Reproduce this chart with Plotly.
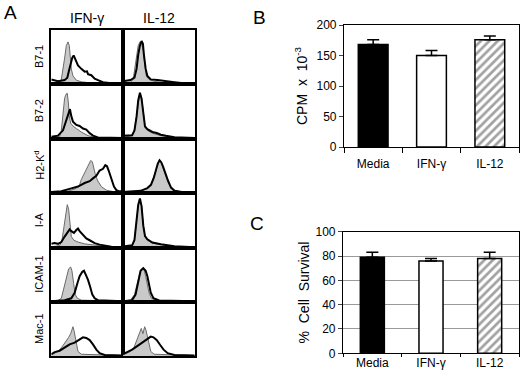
import plotly.graph_objects as go

# ---------------- data ----------------
MARKERS = ["B7-1", "B7-2", "H2-K<sup>d</sup>", "I-A", "ICAM-1", "Mac-1"]
TREATMENTS_A = ["IFN-γ", "IL-12"]

CATEGORIES = ["Media", "IFN-γ", "IL-12"]
CPM = [168, 150, 176]
CPM_ERR = [8, 8, 6]
SURVIVAL = [79, 76, 78]
SURVIVAL_ERR = [4, 2, 5]

# histogram traces (fluorescence channel 0-100, relative counts 0-100)
b71_ifn_ctrl_x = [0, 11.6, 14, 16.3, 18.6, 20.9, 23.3, 25.1, 26.5, 27.9, 30.2, 34.9, 41.9, 55.8, 100]
b71_ifn_ctrl_y = [2, 3, 8.5, 25, 48, 71, 78, 71, 48, 28, 15, 7, 4, 2, 1]
b71_ifn_trt_x = [0, 9.3, 18.6, 22.3, 24.7, 27, 29.3, 31.2, 33.5, 37.2, 41.9, 46.5, 49.8, 51.2, 55.8, 60.5, 65.1, 72.1, 83.7, 100]
b71_ifn_trt_y = [8.5, 5.2, 7.2, 11.8, 24.8, 37.9, 49, 52.9, 44.4, 34.6, 28.1, 22.9, 23.5, 18.3, 16.3, 9.8, 7.2, 3.3, 1.3, 0.7]
b71_il12_ctrl_x = [0, 10.4, 14.2, 16.5, 18.9, 21.2, 23.6, 25.9, 28.3, 30.2, 32.5, 36.3, 43.4, 57.5, 100]
b71_il12_ctrl_y = [2, 3.3, 8.5, 28, 54, 71, 78, 75, 61, 34.6, 15, 8.5, 5.2, 2, 0.7]
b71_il12_trt_x = [0, 10.4, 16, 18.9, 21.2, 23.6, 25.9, 27.8, 29.2, 31.6, 34, 38.7, 48.1, 57.5, 71.7, 90.6, 100]
b71_il12_trt_y = [5.2, 7.2, 11.8, 28, 54, 71, 79.7, 74.5, 54, 28, 15, 8.5, 7.2, 5.2, 3.3, 0.7, 0.5]

b72_ifn_ctrl_x = [0, 11.6, 14, 16.3, 18.6, 20.9, 22.3, 23.7, 25.1, 27, 30.2, 34.9, 41.9, 51.2, 60.5, 100]
b72_ifn_ctrl_y = [2, 3.3, 15, 41, 74, 82, 83, 67, 41, 28, 23, 18.3, 11.8, 5.2, 2, 0.7]
b72_ifn_trt_x = [0, 9.3, 16.3, 20.9, 24.2, 26, 27.9, 30.2, 34.9, 39.5, 44.2, 48.8, 53.5, 58.1, 65.1, 100]
b72_ifn_trt_y = [3.3, 5.2, 15, 34.6, 51, 54, 41, 31, 24.8, 22.9, 18.3, 16.3, 9.8, 5.2, 2, 0.7]
b72_il12_ctrl_x = [0, 12.7, 16, 18.9, 21.2, 23.6, 25.9, 28.3, 30.7, 34, 41, 52.8, 71.7, 100]
b72_il12_ctrl_y = [2, 5.2, 15, 41, 71, 83.7, 74.5, 41, 21.6, 15, 9.8, 5.2, 2, 0.7]
b72_il12_trt_x = [0, 12.7, 16, 18.9, 21.2, 23.6, 25.9, 28.3, 30.7, 34, 41, 47, 52.8, 60, 71.7, 100]
b72_il12_trt_y = [5, 6, 15, 40, 70, 84, 73, 42, 22, 17, 12, 10, 7, 5, 2.5, 1]

h2k_ifn_ctrl_x = [0, 23.3, 34.9, 39.5, 41.9, 45.6, 48.8, 52.1, 54.9, 57.2, 59.5, 61.9, 65.1, 69.8, 76.7, 88.4, 100]
h2k_ifn_ctrl_y = [0.7, 3.3, 8.5, 15, 24.8, 34.6, 44.4, 54.2, 59.5, 57.5, 44.4, 31.4, 21.6, 11.8, 5.2, 2, 0.7]
h2k_ifn_trt_x = [0, 14, 27.9, 37.2, 46.5, 53.5, 58.1, 62.8, 67.4, 72.1, 75.3, 77.7, 80, 83.7, 87.4, 90.7, 94, 100]
h2k_ifn_trt_y = [2, 3.3, 8.5, 11.8, 18.3, 21.6, 26.8, 31.4, 41.2, 44.4, 51, 49, 41.2, 24.8, 11.8, 5.2, 3.3, 3.3]
h2k_il12_ctrl_x = [0, 24.5, 34, 38.7, 42.5, 45.8, 48.1, 50.5, 52.8, 55.2, 58.5, 62.3, 66, 70.8, 81.1, 100]
h2k_il12_ctrl_y = [0.7, 3.3, 8.5, 15, 28, 41.2, 54.2, 59.5, 57.5, 47.7, 34.6, 21.6, 11.8, 5.2, 2, 0.7]
h2k_il12_trt_x = [0, 24.5, 34, 39, 43, 46, 48.5, 51, 53.5, 56, 59, 63, 67, 72, 82, 100]
h2k_il12_trt_y = [2, 4, 9, 15, 28, 42, 54, 60, 56, 48, 36, 22, 10, 4, 2, 1]

ia_ifn_ctrl_x = [0, 11.6, 14.9, 17.7, 20, 22.3, 24.2, 26, 27.9, 31.6, 37.2, 46.5, 55.8, 65.1, 79.1, 100]
ia_ifn_ctrl_y = [1.3, 3.3, 13.3, 40, 66.7, 78.7, 70, 40, 20, 13.3, 10, 6.7, 5.3, 3.3, 1.3, 0]
ia_ifn_trt_x = [0, 4.7, 9.3, 14, 18.6, 22.3, 25.6, 27.9, 31.6, 34.9, 37.2, 39.5, 44.2, 48.8, 53.5, 60.5, 67.4, 74.4, 83.7, 100]
ia_ifn_trt_y = [6.7, 8, 6.7, 10, 20, 26.7, 33.3, 30, 26.7, 32, 34.7, 30, 23.3, 16.7, 13.3, 8, 5.3, 3.3, 1.3, 0]
ia_il12_ctrl_x = [0, 12.7, 16, 18.9, 21.2, 23.6, 25.9, 28.3, 30.7, 34, 41, 52.8, 71.7, 100]
ia_il12_ctrl_y = [1.3, 3.3, 13.3, 46.7, 76.7, 88, 76.7, 40, 20, 13.3, 8, 5.3, 2, 0]
ia_il12_trt_x = [0, 12.7, 16, 18.9, 21.2, 23.6, 25.9, 28.3, 30.7, 34, 41, 52.8, 71.7, 100]
ia_il12_trt_y = [2, 4, 14, 47, 78, 90, 76, 40, 21, 15, 9, 6, 2.5, 0.5]

icam_ifn_ctrl_x = [0, 9.3, 14, 17.7, 20.9, 24.2, 27, 28.8, 31.2, 33.5, 36.3, 41.9, 100]
icam_ifn_ctrl_y = [1.4, 2.7, 6.8, 27, 47.3, 60.8, 64.2, 57.4, 33.8, 13.5, 6.8, 3.4, 1.4]
icam_ifn_trt_x = [0, 18.6, 27.9, 32.6, 36.3, 39.5, 43.3, 45.6, 47.9, 51.2, 54.4, 57.2, 60.5, 65.1, 100]
icam_ifn_trt_y = [1.4, 3.4, 6.8, 16.9, 33.8, 47.3, 55.4, 57.4, 50.7, 40.5, 27, 13.5, 6.8, 3.4, 1.4]
icam_il12_ctrl_x = [0, 10.4, 16, 19.8, 23.6, 26.9, 29.2, 31.6, 34, 36.3, 39.6, 48.1, 100]
icam_il12_ctrl_y = [1.4, 3.4, 13.5, 33.8, 54.1, 62.2, 59.5, 47.3, 33.8, 16.9, 6.8, 2.7, 1.4]
icam_il12_trt_x = [0, 12.7, 17.5, 21.2, 24.5, 28.3, 31.6, 34, 36.3, 38.7, 42.5, 50.5, 100]
icam_il12_trt_y = [1.4, 3.4, 13.5, 40.5, 57.4, 62.2, 57.4, 47.3, 33.8, 16.9, 6.8, 2.7, 1.4]

mac1_ifn_ctrl_x = [0, 4.7, 9.3, 14, 17.7, 20.9, 24.2, 27, 28.8, 30.2, 31.6, 33.5, 34.9, 37.2, 41.9, 100]
mac1_ifn_ctrl_y = [2, 5.2, 8.5, 15, 21.6, 28.1, 34.6, 41.2, 47.7, 54.2, 47.7, 34.6, 21.6, 8.5, 3.3, 0.7]
mac1_ifn_trt_x = [0, 4.7, 11.6, 18.6, 25.6, 32.6, 39.5, 44.2, 48.8, 53.5, 58.1, 62.8, 67.4, 74.4, 100]
mac1_ifn_trt_y = [3.3, 7.2, 9.8, 15, 21.6, 24.8, 31.4, 34.6, 33.3, 29.4, 21.6, 11.8, 5.2, 2, 0.7]
mac1_il12_ctrl_x = [0, 5.7, 10.4, 15.1, 18.9, 22.2, 25.5, 27.8, 30.2, 32.1, 34, 36.3, 38.7, 43.4, 100]
mac1_il12_ctrl_y = [2, 5.2, 8.5, 15, 28.1, 41.2, 51, 41.2, 54.2, 47.7, 34.6, 18.3, 8.5, 3.3, 0.7]
mac1_il12_trt_x = [0, 5.7, 12.7, 19.8, 26.9, 34, 38.7, 42.5, 47.2, 51.9, 56.6, 62.3, 71.7, 100]
mac1_il12_trt_y = [3.3, 7.2, 11.8, 18.3, 24.8, 31.4, 35.9, 34.6, 29.4, 20.3, 11.8, 5.2, 2, 0.7]

HISTS = [
    [(b71_ifn_ctrl_x, b71_ifn_ctrl_y, b71_ifn_trt_x, b71_ifn_trt_y),
     (b71_il12_ctrl_x, b71_il12_ctrl_y, b71_il12_trt_x, b71_il12_trt_y)],
    [(b72_ifn_ctrl_x, b72_ifn_ctrl_y, b72_ifn_trt_x, b72_ifn_trt_y),
     (b72_il12_ctrl_x, b72_il12_ctrl_y, b72_il12_trt_x, b72_il12_trt_y)],
    [(h2k_ifn_ctrl_x, h2k_ifn_ctrl_y, h2k_ifn_trt_x, h2k_ifn_trt_y),
     (h2k_il12_ctrl_x, h2k_il12_ctrl_y, h2k_il12_trt_x, h2k_il12_trt_y)],
    [(ia_ifn_ctrl_x, ia_ifn_ctrl_y, ia_ifn_trt_x, ia_ifn_trt_y),
     (ia_il12_ctrl_x, ia_il12_ctrl_y, ia_il12_trt_x, ia_il12_trt_y)],
    [(icam_ifn_ctrl_x, icam_ifn_ctrl_y, icam_ifn_trt_x, icam_ifn_trt_y),
     (icam_il12_ctrl_x, icam_il12_ctrl_y, icam_il12_trt_x, icam_il12_trt_y)],
    [(mac1_ifn_ctrl_x, mac1_ifn_ctrl_y, mac1_ifn_trt_x, mac1_ifn_trt_y),
     (mac1_il12_ctrl_x, mac1_il12_ctrl_y, mac1_il12_trt_x, mac1_il12_trt_y)],
]

# ---------------- layout helpers ----------------
W, H = 520, 371
FONT = "Liberation Sans, Arial, sans-serif"


def px_x(v):
    return v / W


def px_y(v):
    return 1 - v / H


COL_EDGES = [51.3, 123, 194.7]
ROW_EDGES = [30, 84, 138.5, 193, 247.5, 302, 356]

fig = go.Figure()
layout = dict(
    width=W, height=H, margin=dict(l=0, r=0, t=0, b=0, autoexpand=False),
    paper_bgcolor="white", plot_bgcolor="white", showlegend=False,
    font=dict(family=FONT, color="black"),
)

k = 0
for r in range(6):
    for c in range(2):
        k += 1
        xa = "xaxis" if k == 1 else f"xaxis{k}"
        ya = "yaxis" if k == 1 else f"yaxis{k}"
        xr = "x" if k == 1 else f"x{k}"
        yr = "y" if k == 1 else f"y{k}"
        cx, cy, tx, ty = HISTS[r][c]
        fig.add_trace(go.Scatter(x=cx, y=cy, xaxis=xr, yaxis=yr, mode="lines",
                                 fill="tozeroy", fillcolor="#c9c9c9",
                                 line=dict(color="#6a6a6a", width=1), hoverinfo="skip"))
        fig.add_trace(go.Scatter(x=tx, y=ty, xaxis=xr, yaxis=yr, mode="lines",
                                 line=dict(color="black", width=2), hoverinfo="skip"))
        layout[xa] = dict(domain=[px_x(COL_EDGES[c]), px_x(COL_EDGES[c + 1])], range=[0, 100],
                          showline=True, mirror=True, linecolor="black", linewidth=1.5,
                          showgrid=False, zeroline=False, showticklabels=False, ticks="",
                          anchor=yr, fixedrange=True, automargin=False)
        layout[ya] = dict(domain=[px_y(ROW_EDGES[r + 1]), px_y(ROW_EDGES[r])], range=[0, 100],
                          showline=True, mirror=True, linecolor="black", linewidth=1.5,
                          showgrid=False, zeroline=False, showticklabels=False, ticks="",
                          anchor=xr, fixedrange=True, automargin=False)

HATCH = dict(shape=["", "", "/"], fgcolor="black", size=6, solidity=0.45)

# ---- panel B ----
kb = k + 1
fig.add_trace(go.Bar(
    x=CATEGORIES, y=CPM, xaxis=f"x{kb}", yaxis=f"y{kb}", width=0.51,
    marker=dict(color=["black", "white", "white"], line=dict(color="black", width=1.5),
                pattern=HATCH),
    error_y=dict(type="data", array=CPM_ERR, arrayminus=[0, 0, 0], symmetric=False,
                 color="black", thickness=1.5, width=6),
))
layout[f"xaxis{kb}"] = dict(domain=[px_x(344), px_x(519)], anchor=f"y{kb}",
                            showline=True, mirror=True, linecolor="black", linewidth=1.2,
                            ticks="outside", tickson="boundaries", ticklen=5, tickcolor="black",
                            ticklabelstandoff=5, tickfont=dict(size=12), showgrid=False,
                            automargin=False)
layout[f"yaxis{kb}"] = dict(domain=[px_y(147), px_y(25)], anchor=f"x{kb}", range=[0, 200],
                            tickvals=[0, 50, 100, 150, 200], showline=True, mirror=True,
                            linecolor="black", linewidth=1.2, ticks="outside", ticklen=4,
                            tickfont=dict(size=12), showgrid=False, zeroline=False,
                            automargin=False,
                            title=dict(text="CPM  x  10<sup>-3</sup>", font=dict(size=14), standoff=5))

# ---- panel C ----
kc = kb + 1
fig.add_trace(go.Bar(
    x=CATEGORIES, y=SURVIVAL, xaxis=f"x{kc}", yaxis=f"y{kc}", width=0.41,
    marker=dict(color=["black", "white", "white"], line=dict(color="black", width=1.5),
                pattern=HATCH),
    error_y=dict(type="data", array=SURVIVAL_ERR, arrayminus=[0, 0, 0], symmetric=False,
                 color="black", thickness=1.5, width=6),
))
layout[f"xaxis{kc}"] = dict(domain=[px_x(343), px_x(519)], anchor=f"y{kc}",
                            showline=True, mirror=True, linecolor="black", linewidth=1.2,
                            ticks="outside", tickson="boundaries", ticklen=3, tickcolor="black",
                            ticklabelstandoff=-2, tickfont=dict(size=12), showgrid=False,
                            automargin=False)
layout[f"yaxis{kc}"] = dict(domain=[px_y(353.3), px_y(231.7)], anchor=f"x{kc}", range=[0, 100],
                            tickvals=[0, 20, 40, 60, 80, 100], showline=True, mirror=True,
                            linecolor="black", linewidth=1.2, ticks="outside", ticklen=4,
                            tickfont=dict(size=12), showgrid=True, gridcolor="#9a9a9a",
                            gridwidth=1, zeroline=False, automargin=False,
                            title=dict(text="%  Cell  Survival", font=dict(size=14), standoff=2))

# ---- annotations ----
ann = []
for txt, x, y in [("A", 10, 12), ("B", 259, 17), ("C", 257, 223)]:
    ann.append(dict(text=txt, x=px_x(x), y=px_y(y), xref="paper", yref="paper",
                    showarrow=False, font=dict(size=19), xanchor="center", yanchor="middle"))
for c, t in enumerate(TREATMENTS_A):
    ann.append(dict(text=t, x=px_x((COL_EDGES[c] + COL_EDGES[c + 1]) / 2), y=px_y(18),
                    xref="paper", yref="paper", showarrow=False, font=dict(size=14),
                    xanchor="center", yanchor="middle"))
for r, m in enumerate(MARKERS):
    ann.append(dict(text=m, x=px_x(39), y=px_y((ROW_EDGES[r] + ROW_EDGES[r + 1]) / 2),
                    xref="paper", yref="paper", showarrow=False, font=dict(size=11),
                    textangle=-90, xanchor="center", yanchor="middle"))
layout["annotations"] = ann

fig.update_layout(**layout)
fig.write_html("out.html", config={"displayModeBar": False},
               post_script="document.body.style.margin='0';document.body.style.overflow='hidden';")
